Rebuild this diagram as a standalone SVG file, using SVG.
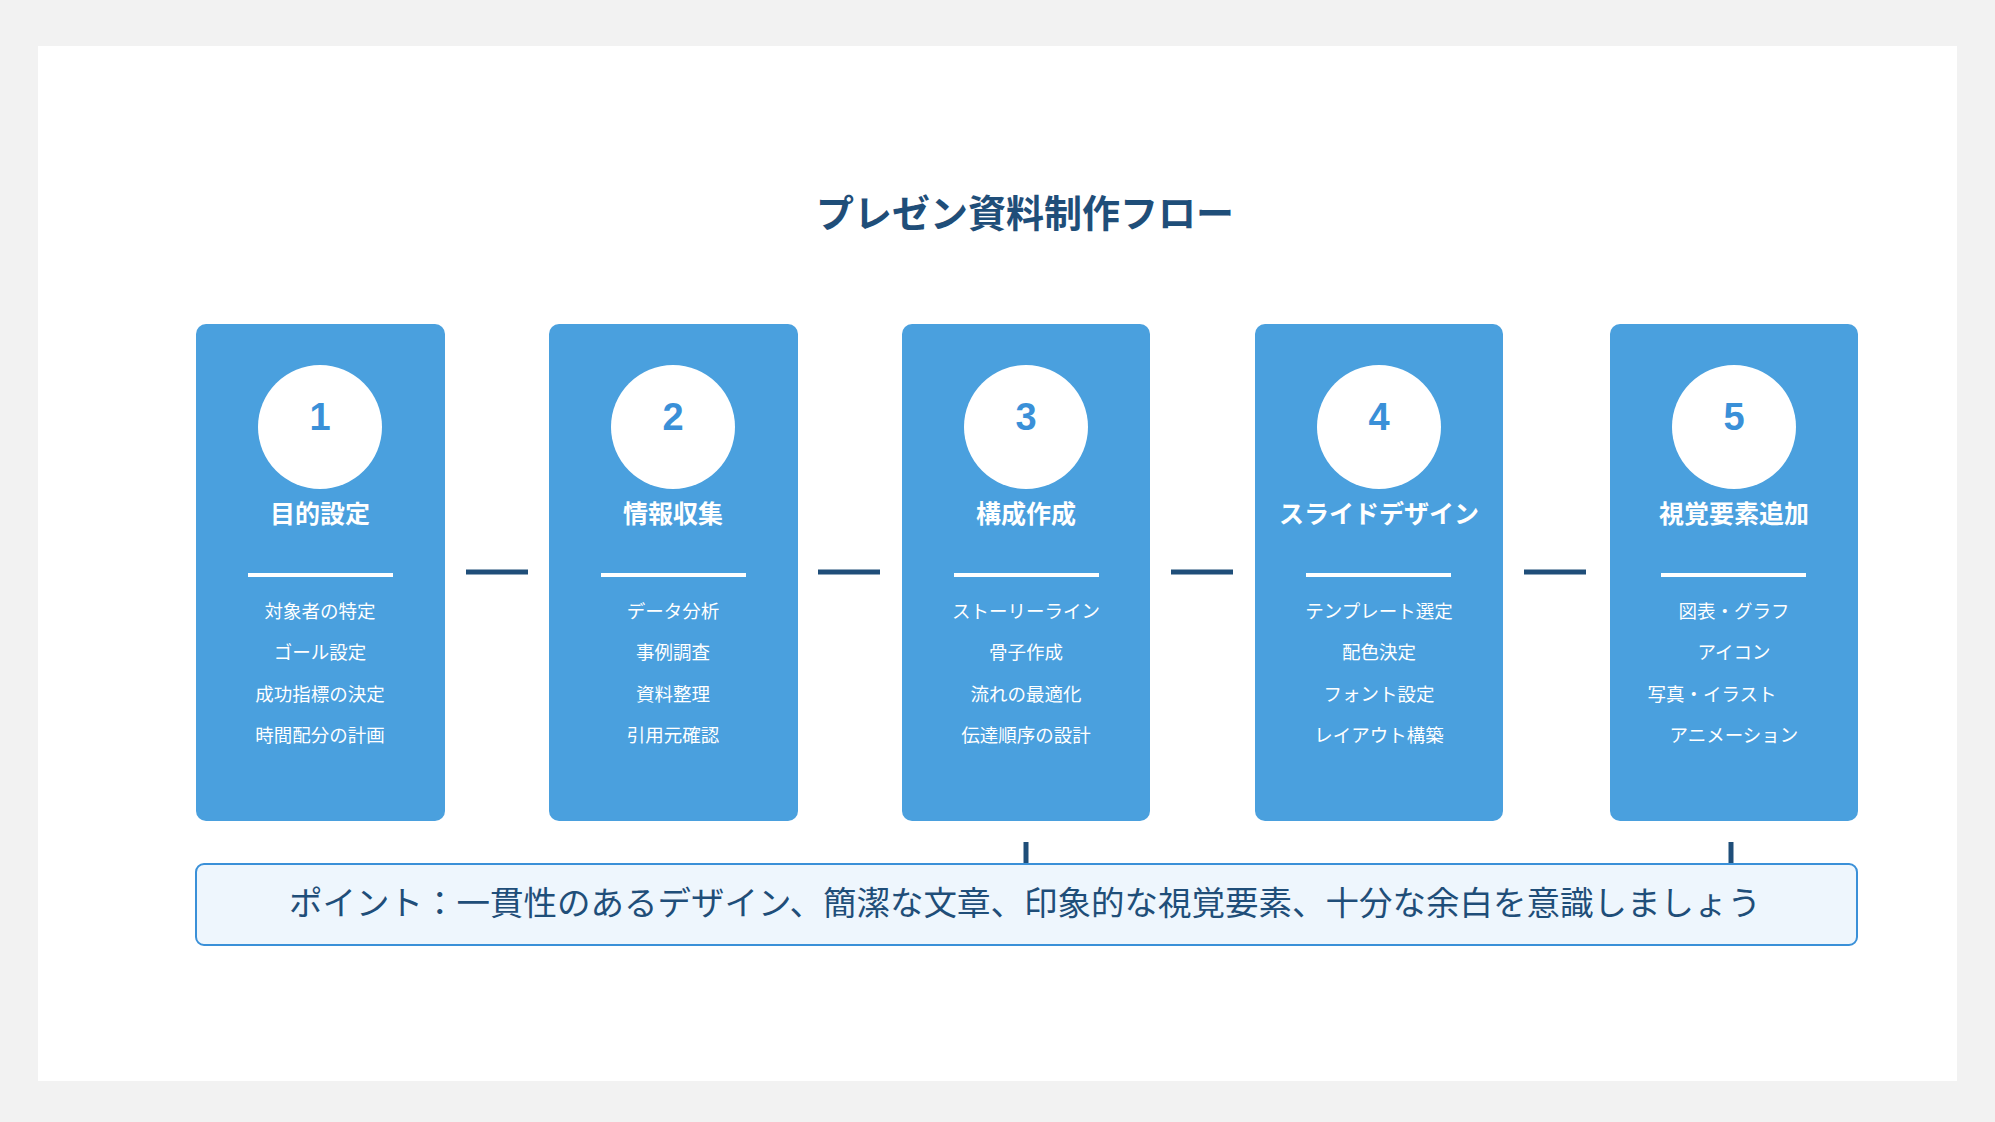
<svg xmlns="http://www.w3.org/2000/svg" width="1995" height="1122" viewBox="0 0 1995 1122">
<style>
.card{fill:#4aa0de}
.circ{fill:#fff}
.num{font-family:"Liberation Sans","Noto Sans CJK JP",sans-serif;font-weight:bold;font-size:38px;fill:#3a90d8;text-anchor:middle}
.hd{font-family:"Noto Sans CJK JP",sans-serif;font-weight:bold;font-size:25px;fill:#fff;text-anchor:middle}
.it{font-family:"Noto Sans CJK JP",sans-serif;font-size:18.5px;fill:#fff;text-anchor:middle}
.sep{stroke:#fff;stroke-width:4}
.con{stroke:#1f4e79;stroke-width:5}
</style>
<rect width="1995" height="1122" fill="#f2f2f2"/>
<rect x="38" y="46" width="1919" height="1035" fill="#fff"/>
<text x="1025" y="227" font-family="Noto Sans CJK JP, sans-serif" font-weight="bold" font-size="38" fill="#1f4e79" text-anchor="middle">プレゼン資料制作フロー</text>
<g id="connectors">
<line class="con" x1="466" y1="572" x2="528" y2="572"/>
<line class="con" x1="818" y1="572" x2="880" y2="572"/>
<line class="con" x1="1171" y1="572" x2="1233" y2="572"/>
<line class="con" x1="1524" y1="572" x2="1586" y2="572"/>
<line class="con" x1="1026" y1="842" x2="1026" y2="864"/>
<line class="con" x1="1731" y1="842" x2="1731" y2="864"/>
</g>
<g id="card1">
<rect class="card" x="196" y="324" width="249" height="497" rx="10"/>
<circle class="circ" cx="320" cy="427" r="62"/>
<text class="num" x="320" y="430">1</text>
<text class="hd" x="320" y="523">目的設定</text>
<line class="sep" x1="248" y1="575" x2="393" y2="575"/>
<text class="it" x="320" y="618">対象者の特定</text>
<text class="it" x="320" y="659">ゴール設定</text>
<text class="it" x="320" y="701">成功指標の決定</text>
<text class="it" x="320" y="742">時間配分の計画</text>
</g>
<g id="card2">
<rect class="card" x="549" y="324" width="249" height="497" rx="10"/>
<circle class="circ" cx="673" cy="427" r="62"/>
<text class="num" x="673" y="430">2</text>
<text class="hd" x="673" y="523">情報収集</text>
<line class="sep" x1="601" y1="575" x2="746" y2="575"/>
<text class="it" x="673" y="618">データ分析</text>
<text class="it" x="673" y="659">事例調査</text>
<text class="it" x="673" y="701">資料整理</text>
<text class="it" x="673" y="742">引用元確認</text>
</g>
<g id="card3">
<rect class="card" x="902" y="324" width="248" height="497" rx="10"/>
<circle class="circ" cx="1026" cy="427" r="62"/>
<text class="num" x="1026" y="430">3</text>
<text class="hd" x="1026" y="523">構成作成</text>
<line class="sep" x1="954" y1="575" x2="1099" y2="575"/>
<text class="it" x="1026" y="618">ストーリーライン</text>
<text class="it" x="1026" y="659">骨子作成</text>
<text class="it" x="1026" y="701">流れの最適化</text>
<text class="it" x="1026" y="742">伝達順序の設計</text>
</g>
<g id="card4">
<rect class="card" x="1255" y="324" width="248" height="497" rx="10"/>
<circle class="circ" cx="1379" cy="427" r="62"/>
<text class="num" x="1379" y="430">4</text>
<text class="hd" x="1379" y="523">スライドデザイン</text>
<line class="sep" x1="1306" y1="575" x2="1451" y2="575"/>
<text class="it" x="1379" y="618">テンプレート選定</text>
<text class="it" x="1379" y="659">配色決定</text>
<text class="it" x="1379" y="701">フォント設定</text>
<text class="it" x="1379" y="742">レイアウト構築</text>
</g>
<g id="card5">
<rect class="card" x="1610" y="324" width="248" height="497" rx="10"/>
<circle class="circ" cx="1734" cy="427" r="62"/>
<text class="num" x="1734" y="430">5</text>
<text class="hd" x="1734" y="523">視覚要素追加</text>
<line class="sep" x1="1661" y1="575" x2="1806" y2="575"/>
<text class="it" x="1734" y="618">図表・グラフ</text>
<text class="it" x="1734" y="659">アイコン</text>
<text class="it" x="1712" y="701">写真・イラスト</text>
<text class="it" x="1734" y="742">アニメーション</text>
</g>
<g id="note">
<rect x="196" y="864" width="1661" height="81" rx="8" fill="#eef6fd" stroke="#3a90d8" stroke-width="2"/>
<text x="1025" y="915" font-family="Noto Sans CJK JP, sans-serif" font-size="33.5" fill="#1f4e79" text-anchor="middle">ポイント：一貫性のあるデザイン、簡潔な文章、印象的な視覚要素、十分な余白を意識しましょう</text>
</g>
</svg>
